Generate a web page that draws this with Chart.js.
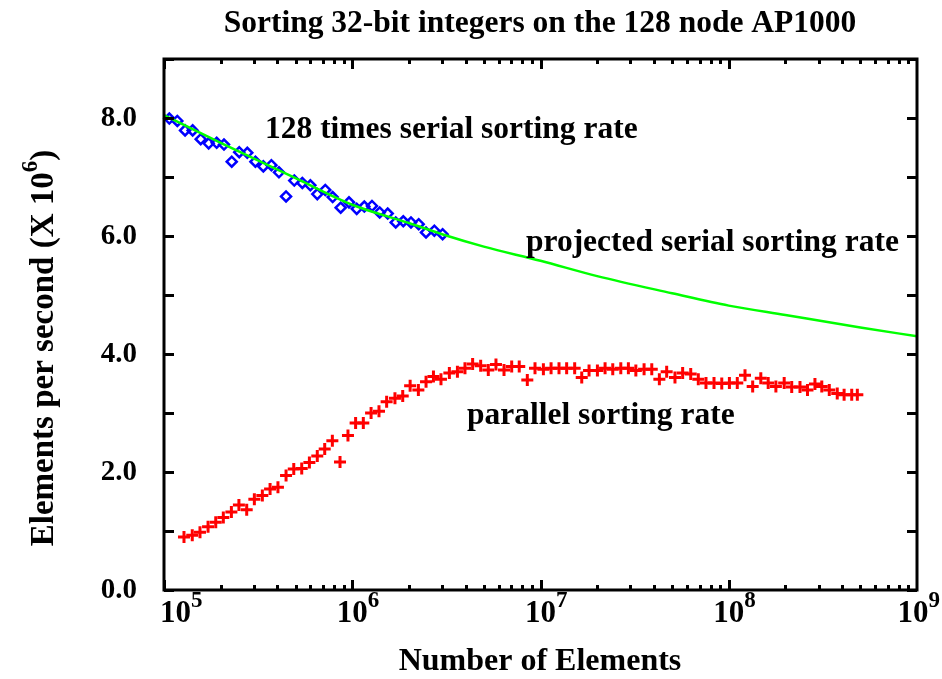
<!DOCTYPE html>
<html lang="en">
<head>
<meta charset="UTF-8">
<title>Sorting 32-bit integers on the 128 node AP1000</title>
<script src="https://cdn.jsdelivr.net/npm/chart.js"></script>
<style>
  html, body { margin: 0; padding: 0; background: #fff; }
</style>
</head>
<body>
<canvas id="sortChart" width="942" height="679"></canvas>
<script>
// 128 times serial sorting rate (blue diamonds), rate in 10^6 elements/s
const serialN = [1.067e5, 1.177e5, 1.294e5, 1.42e5, 1.567e5, 1.727e5, 1.905e5, 2.083e5, 2.29e5, 2.51e5,
  2.77e5, 3.06e5, 3.37e5, 3.72e5, 4.08e5, 4.45e5, 4.92e5, 5.43e5, 5.99e5, 6.52e5,
  7.19e5, 7.87e5, 8.68e5, 9.61e5, 1.056e6, 1.159e6, 1.273e6, 1.399e6, 1.543e6, 1.702e6,
  1.867e6, 2.051e6, 2.254e6, 2.465e6, 2.73e6, 3.02e6];
const serialRate = [7.99, 7.95, 7.79, 7.79, 7.64, 7.57, 7.58, 7.55, 7.26, 7.42,
  7.41, 7.26, 7.18, 7.20, 7.08, 6.67, 6.94, 6.90, 6.86, 6.71,
  6.78, 6.66, 6.48, 6.57, 6.46, 6.50, 6.51, 6.40, 6.38, 6.23,
  6.25, 6.23, 6.20, 6.06, 6.09, 6.03];

// projected serial sorting rate (green line)
const projectedN = [1e5, 2e5, 5e5, 1e6, 2e6, 3e6, 5e6, 1e7, 2e7, 5e7, 1e8, 2e8, 5e8, 1e9];
const projectedRate = [8.05, 7.58, 6.98, 6.53, 6.22, 6.03, 5.82, 5.58, 5.32, 5.03, 4.82, 4.66, 4.45, 4.30];

// parallel sorting rate (red crosses)
const parallelN = [1.277e5, 1.413e5, 1.553e5, 1.714e5, 1.883e5, 2.066e5, 2.28e5, 2.50e5, 2.75e5, 3.02e5,
  3.33e5, 3.66e5, 4.03e5, 4.45e5, 4.89e5, 5.39e5, 5.92e5, 6.52e5, 7.14e5, 7.84e5,
  8.61e5, 9.49e5, 1.042e6, 1.145e6, 1.259e6, 1.387e6, 1.523e6, 1.686e6, 1.854e6, 2.03e6,
  2.245e6, 2.466e6, 2.70e6, 2.96e6, 3.28e6, 3.62e6, 3.97e6, 4.36e6, 4.81e6, 5.28e6,
  5.80e6, 6.40e6, 7.03e6, 7.71e6, 8.51e6, 9.35e6, 1.036e7, 1.138e7, 1.254e7, 1.377e7,
  1.519e7, 1.656e7, 1.811e7, 2.006e7, 2.203e7, 2.42e7, 2.67e7, 2.93e7, 3.21e7, 3.55e7,
  3.90e7, 4.28e7, 4.68e7, 5.18e7, 5.69e7, 6.28e7, 6.89e7, 7.57e7, 8.35e7, 9.18e7,
  1.008e8, 1.11e8, 1.22e8, 1.34e8, 1.48e8, 1.62e8, 1.78e8, 1.97e8, 2.16e8, 2.39e8,
  2.62e8, 2.87e8, 3.12e8, 3.42e8, 3.77e8, 4.10e8, 4.50e8, 4.82e8];
const parallelRate = [0.90, 0.93, 0.98, 1.07, 1.15, 1.23, 1.32, 1.44, 1.36, 1.54,
  1.60, 1.71, 1.74, 1.94, 2.05, 2.06, 2.16, 2.27, 2.39, 2.53,
  2.17, 2.62, 2.83, 2.83, 3.00, 3.03, 3.19, 3.25, 3.29, 3.46,
  3.39, 3.53, 3.62, 3.57, 3.68, 3.70, 3.76, 3.83, 3.80, 3.73,
  3.82, 3.73, 3.79, 3.79, 3.56, 3.76, 3.74, 3.76, 3.76, 3.76,
  3.76, 3.60, 3.72, 3.72, 3.76, 3.74, 3.76, 3.76, 3.72, 3.74,
  3.74, 3.57, 3.70, 3.60, 3.68, 3.66, 3.57, 3.51, 3.51, 3.50,
  3.51, 3.51, 3.64, 3.45, 3.59, 3.51, 3.45, 3.51, 3.44, 3.44,
  3.39, 3.49, 3.45, 3.39, 3.33, 3.31, 3.31, 3.31];

const yTickValues = [0, 1, 2, 3, 4, 5, 6, 7, 8, 9];
const yTickLabels = ['0.0', '', '2.0', '', '4.0', '', '6.0', '', '8.0', ''];
const xDecades = [5, 6, 7, 8, 9];

const labels = [
  { text: '128 times serial sorting rate', x: 3.44e5, y: 7.8 },
  { text: 'projected serial sorting rate', x: 8.37e6, y: 5.88 },
  { text: 'parallel sorting rate', x: 4.07e6, y: 2.95 }
];

const FONT = '"Liberation Serif", "Times New Roman", serif';

function toPoints(xs, ys) {
  return xs.map((v, i) => ({ x: v, y: ys[i] }));
}

const framePlugin = {
  id: 'framePlugin',
  afterDraw(chart) {
    const ctx = chart.ctx;
    const a = chart.chartArea;
    const xs = chart.scales.x;
    const ys = chart.scales.y;
    ctx.save();
    ctx.strokeStyle = '#000';
    ctx.fillStyle = '#000';

    // frame
    ctx.lineWidth = 3;
    ctx.strokeRect(a.left, a.top, a.right - a.left, a.bottom - a.top);

    // x ticks (inward, top and bottom)
    ctx.beginPath();
    for (let d = 5; d < 9; d++) {
      for (let m = 1; m <= 9; m++) {
        const v = m * Math.pow(10, d);
        const px = Math.round(xs.getPixelForValue(v)) + 0.5;
        const len = m === 1 ? 10 : 5;
        ctx.moveTo(px, a.bottom); ctx.lineTo(px, a.bottom - len);
        ctx.moveTo(px, a.top); ctx.lineTo(px, a.top + len);
      }
    }
    // y ticks (inward, left and right)
    yTickValues.forEach(v => {
      const py = Math.round(ys.getPixelForValue(v)) + 0.5;
      ctx.moveTo(a.left, py); ctx.lineTo(a.left + 10, py);
      ctx.moveTo(a.right, py); ctx.lineTo(a.right - 10, py);
    });
    ctx.lineWidth = 3;
    ctx.stroke();

    // y tick labels
    ctx.font = 'bold 29px ' + FONT;
    ctx.textAlign = 'right';
    ctx.textBaseline = 'middle';
    yTickValues.forEach((v, i) => {
      if (!yTickLabels[i]) return;
      ctx.fillText(yTickLabels[i], 137, ys.getPixelForValue(v) + 1);
    });

    // x tick labels 10^n
    ctx.textAlign = 'left';
    ctx.textBaseline = 'alphabetic';
    xDecades.forEach(d => {
      const px = xs.getPixelForValue(Math.pow(10, d));
      ctx.font = 'bold 31px ' + FONT;
      const wBase = ctx.measureText('10').width;
      ctx.font = 'bold 23px ' + FONT;
      const wExp = ctx.measureText(String(d)).width;
      let left = px - wBase / 2;
      if (left < 160) left = 160;
      if (left + wBase + wExp > 940) left = 940 - wBase - wExp;
      ctx.font = 'bold 31px ' + FONT;
      ctx.fillText('10', left, 622);
      ctx.font = 'bold 23px ' + FONT;
      ctx.fillText(String(d), left + wBase, 607);
    });

    // x axis title
    ctx.font = 'bold 32px ' + FONT;
    ctx.textAlign = 'center';
    ctx.fillText('Number of Elements', 540, 670);

    // y axis title (rotated, with superscript)
    ctx.save();
    ctx.translate(53, 348);
    ctx.rotate(-Math.PI / 2);
    ctx.font = 'bold 33px ' + FONT;
    const main = 'Elements per second (X 10';
    const wMain = ctx.measureText(main).width;
    ctx.font = 'bold 23px ' + FONT;
    const wSix = ctx.measureText('6').width;
    ctx.font = 'bold 33px ' + FONT;
    const wParen = ctx.measureText(')').width;
    const total = wMain + wSix + wParen;
    const sx = -total / 2;
    ctx.textAlign = 'left';
    ctx.fillText(main, sx, 0);
    ctx.font = 'bold 23px ' + FONT;
    ctx.fillText('6', sx + wMain, -16);
    ctx.font = 'bold 33px ' + FONT;
    ctx.fillText(')', sx + wMain + wSix, 0);
    ctx.restore();

    // title
    ctx.font = 'bold 31.5px ' + FONT;
    ctx.textAlign = 'center';
    ctx.textBaseline = 'alphabetic';
    ctx.fillText('Sorting 32-bit integers on the 128 node AP1000', 540, 32);

    // curve labels
    ctx.font = 'bold 31.5px ' + FONT;
    ctx.textAlign = 'left';
    ctx.textBaseline = 'middle';
    labels.forEach(l => {
      ctx.fillText(l.text, xs.getPixelForValue(l.x), ys.getPixelForValue(l.y));
    });

    ctx.restore();
  }
};

new Chart(document.getElementById('sortChart'), {
  type: 'scatter',
  data: {
    datasets: [
      {
        label: 'projected serial sorting rate',
        type: 'line',
        data: toPoints(projectedN, projectedRate),
        borderColor: '#00ff00',
        borderWidth: 2.5,
        pointRadius: 0,
        cubicInterpolationMode: 'monotone',
        fill: false,
        clip: false
      },
      {
        label: '128 times serial sorting rate',
        data: toPoints(serialN, serialRate),
        pointStyle: 'rectRot',
        pointRadius: 5,
        borderColor: '#0000ff',
        backgroundColor: 'rgba(0,0,0,0)',
        borderWidth: 2.5,
        clip: false
      },
      {
        label: 'parallel sorting rate',
        data: toPoints(parallelN, parallelRate),
        pointStyle: 'cross',
        pointRadius: 6,
        borderColor: '#ff0000',
        borderWidth: 3,
        clip: false
      }
    ]
  },
  options: {
    responsive: false,
    animation: false,
    layout: { padding: { left: 164, right: 25, top: 59, bottom: 89 } },
    scales: {
      x: { type: 'logarithmic', min: 1e5, max: 1e9, display: false },
      y: { type: 'linear', min: 0, max: 9, display: false }
    },
    plugins: {
      legend: { display: false },
      title: { display: false },
      tooltip: { enabled: false }
    }
  },
  plugins: [framePlugin]
});
</script>
</body>
</html>
